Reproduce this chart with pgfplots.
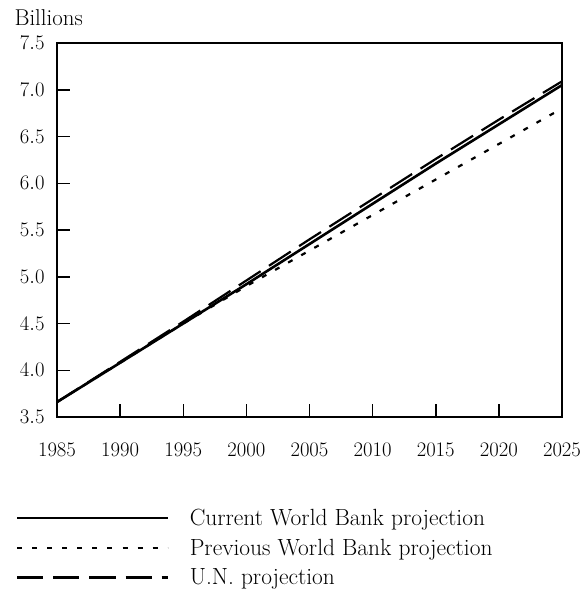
\documentclass[border=0pt]{standalone}
\usepackage{pgfplots}
\pgfplotsset{compat=1.18}
\begin{document}
\begin{tikzpicture}
\begin{axis}[
  scale only axis,
  width=505bp, height=374bp,
  xmin=1985, xmax=2025,
  ymin=3.5, ymax=7.5,
  xtick={1985,1990,...,2025},
  ytick={3.5,4.0,...,7.5},
  tick align=inside,
  xtick pos=bottom, ytick pos=left,
  major tick length=13bp,
  axis line style={line width=1.8bp},
  every tick/.style={black, line width=1.5bp},
  tick label style={font=\fontsize{22}{26}\selectfont},
  xticklabel style={/pgf/number format/1000 sep=, inner sep=1bp, yshift=-25bp},
  yticklabel style={xshift=-9bp, /pgf/number format/fixed,
    /pgf/number format/fixed zerofill, /pgf/number format/precision=1},
  clip=false,
  legend cell align=left,
  legend image code/.code={\draw[#1] (0bp,0bp) -- (150bp,0bp);},
  legend style={draw=none, fill=none, inner sep=0pt, at={(rel axis cs:0,0)},
    anchor=north west, xshift=-41bp, yshift=-90bp,
    font=\fontsize{23.5}{28}\selectfont, row sep=8bp, column sep=19bp},
]

% current World Bank projection
\addplot[black, line width=2.6bp] coordinates {
  (1985,3.66) (1990,4.08) (1995,4.50) (2000,4.92) (2005,5.35)
  (2010,5.78) (2015,6.21) (2020,6.63) (2025,7.05)
};
\addlegendentry{Current World Bank projection}

% previous World Bank projection
\addplot[black, line width=2.2bp, dash pattern=on 5bp off 10bp] coordinates {
  (1985,3.66) (1990,4.08) (1995,4.50) (2000,4.90) (2005,5.28)
  (2010,5.66) (2015,6.04) (2020,6.42) (2025,6.80)
};
\addlegendentry{Previous World Bank projection}

% U.N. projection
\addplot[black, line width=2.2bp, dash pattern=on 26bp off 10bp] coordinates {
  (1985,3.66) (1990,4.09) (1995,4.52) (2000,4.96) (2005,5.40)
  (2010,5.83) (2015,6.26) (2020,6.68) (2025,7.09)
};
\addlegendentry{U.N. projection}

\node[anchor=base west, xshift=-46bp, yshift=18bp, font=\fontsize{23}{27}\selectfont]
  at (rel axis cs:0,1) {Billions};
\coordinate (bl) at (rel axis cs:0,0);
\end{axis}
\path (bl) ++(-57bp,-172bp) rectangle ++(586bp,589bp);
\end{tikzpicture}
\end{document}
